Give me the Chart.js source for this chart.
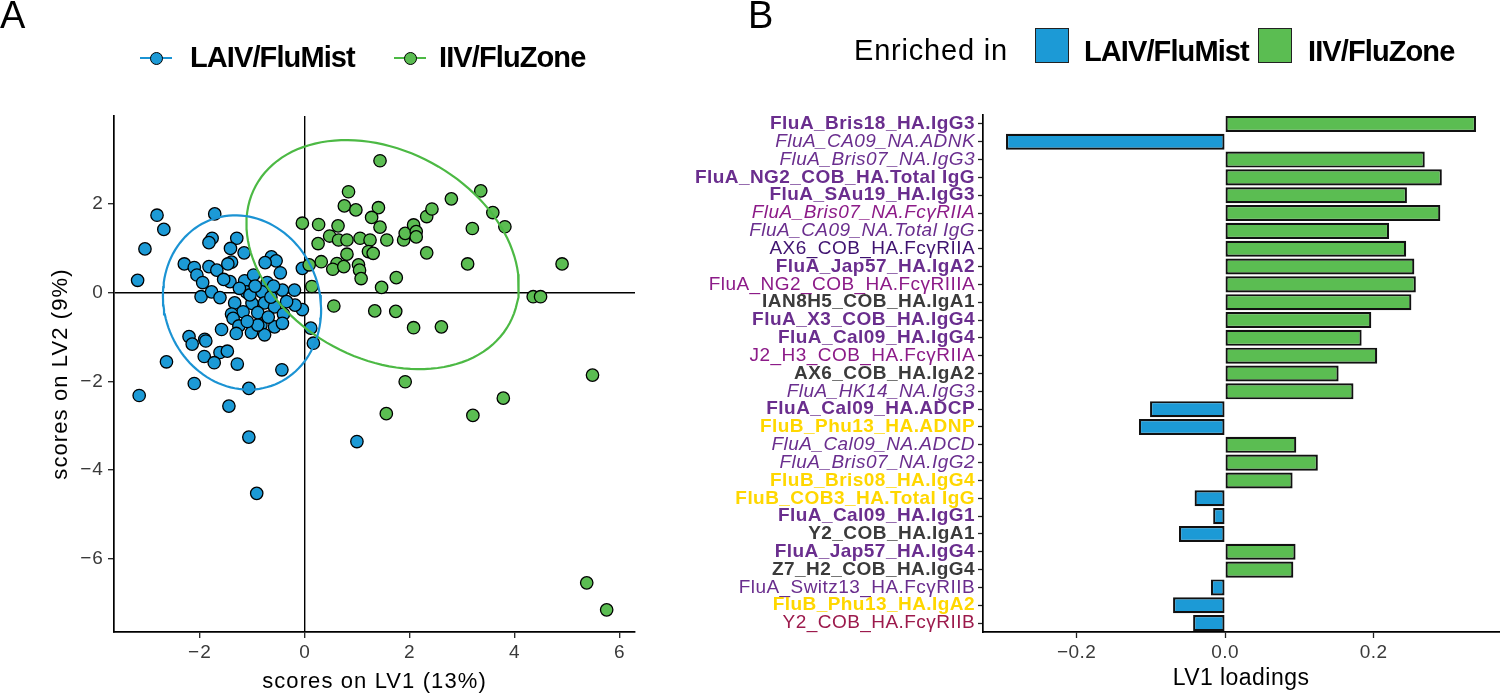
<!DOCTYPE html>
<html>
<head>
<meta charset="utf-8">
<title>LAIV/FluMist vs IIV/FluZone – LV scores and LV1 loadings</title>
<script src="https://cdn.jsdelivr.net/npm/chart.js@4.4.1/dist/chart.umd.min.js"></script>
<style>
  html, body { margin: 0; padding: 0; background: #fff; overflow: hidden; }
  #fig { position: relative; width: 1500px; height: 693px; font-family: "Liberation Sans", Arial, sans-serif; color: #000; }
  #fig canvas { position: absolute; top: 0; }
  .txt { position: absolute; line-height: 1; white-space: nowrap; z-index: 2; }
  .letter { font-size: 38px; }
  .lg-bold { font-size: 29px; font-weight: bold; letter-spacing: -0.9px; }
  .lg-plain { font-size: 29px; letter-spacing: 0.8px; }
  .mk { position: absolute; z-index: 2; box-sizing: border-box; }
</style>
</head>
<body>
<div id="fig">
  <canvas id="chart-scores" width="650" height="693" style="left:0"></canvas>
  <canvas id="chart-loadings" width="850" height="693" style="left:650px"></canvas>
</div>
<script>
// -------- data: panel A (scores) --------
var groups = ["LAIV/FluMist", "IIV/FluZone"];

var laivLV1 = [-2.82, -1.72, -2.69, -3.05, -3.19, -1.30, -1.77, -1.83, -1.42, -1.16,
  -0.64, -0.55, -0.76, -1.40, -1.47, -2.30, -2.11, -1.83, -1.68, -2.06,
  -0.47, -1.95, -1.43, -1.15, -0.98, -0.72, -0.20, -0.05, -1.98, -1.78,
  -1.62, -1.12, -0.82, -0.43, -1.34, -1.01, -0.77, -0.58, -1.18, -1.40,
  -0.41, -1.37, -1.59, -1.26, -0.84, -1.02, -0.58, -0.43, -0.05, 0.11,
  0.16, -2.21, -1.91, -2.15, -1.89, -1.31, -0.77, -0.90, -2.64, -1.92,
  -1.62, -1.48, -1.73, -1.29, -0.44, -2.11, -1.07, -3.16, -1.45, -1.07,
  -0.92, 0.99, -0.19, -1.05, -0.90, -0.65, -1.25, -0.35, -1.55, -0.95,
  -0.60, -1.10, -0.70];
var laivLV2 = [1.75, 1.78, 1.43, 0.99, 0.28, 1.23, 1.23, 1.13, 1.00, 0.90,
  0.81, 0.72, 0.68, 0.69, 0.65, 0.65, 0.57, 0.59, 0.51, 0.40,
  0.45, 0.23, 0.25, 0.27, 0.40, 0.23, 0.06, 0.55, -0.09, 0.02,
  -0.11, 0.02, 0.02, 0.06, -0.23, -0.24, -0.23, -0.32, -0.43, -0.48,
  -0.48, -0.58, -0.83, -0.75, -0.73, -0.90, -0.77, -0.69, -0.38, -0.80,
  -1.14, -0.99, -1.05, -1.16, -1.09, -0.92, -0.95, -0.73, -1.56, -1.44,
  -1.35, -1.32, -1.58, -1.61, -1.74, -2.05, -2.16, -2.32, -2.56, -3.26,
  -4.53, -3.36, -0.28, -0.05, -0.45, -0.10, 0.10, -0.20, 0.30, 0.15,
  0.15, -0.65, -0.55];

var iivLV1 = [1.43, 0.83, 0.75, 0.97, 1.40, 1.27, 1.43, -0.05, 0.26, 0.63,
  0.47, 0.64, 0.80, 1.05, 1.24, 1.56, 0.25, 0.80, 1.21, 1.30,
  0.31, 0.08, 0.61, 0.53, 0.74, 1.02, 1.04, 1.07, 1.74, 1.46,
  0.13, 1.88, 1.91, 2.07, 2.12, 2.12, 2.32, 2.42, 2.79, 3.35,
  3.58, 3.81, 3.19, 2.32, 3.10, 4.90, 4.35, 4.49, 0.55, 1.33,
  1.73, 2.07, 2.60, 1.91, 1.55, 3.20, 3.78, 5.48, 5.37, 5.75];
var iivLV2 = [2.98, 2.28, 1.96, 1.87, 1.92, 1.70, 1.48, 1.57, 1.54, 1.51,
  1.28, 1.19, 1.19, 1.23, 1.19, 1.19, 1.11, 0.87, 0.93, 0.89,
  0.70, 0.63, 0.66, 0.53, 0.59, 0.63, 0.51, 0.32, 0.34, 0.12,
  0.14, 1.19, 1.34, 1.53, 1.38, 1.26, 1.72, 1.89, 2.12, 2.30,
  1.81, 1.49, 1.45, 0.90, 0.65, 0.65, -0.09, -0.09, -0.30, -0.41,
  -0.42, -0.79, -0.77, -2.01, -2.73, -2.77, -2.38, -1.86, -6.55, -7.16];

// 95% ellipses: centre + two conjugate semi-axes (data units)
var laivEllipse = { center: [-1.20, -0.22], u: [0.63, -1.85], v: [-1.37, -0.67] };
var iivEllipse  = { center: [1.48, 0.86],  u: [2.42, -1.55], v: [-0.94, -2.07] };

var scoreTicksX = [-2, 0, 2, 4, 6];
var scoreTicksY = [-6, -4, -2, 0, 2];

// -------- data: panel B (loadings) --------
var features = [
  "FluA_Bris18_HA.IgG3", "FluA_CA09_NA.ADNK", "FluA_Bris07_NA.IgG3", "FluA_NG2_COB_HA.Total IgG",
  "FluA_SAu19_HA.IgG3", "FluA_Bris07_NA.FcγRIIA", "FluA_CA09_NA.Total IgG", "AX6_COB_HA.FcγRIIA",
  "FluA_Jap57_HA.IgA2", "FluA_NG2_COB_HA.FcγRIIIA", "IAN8H5_COB_HA.IgA1", "FluA_X3_COB_HA.IgG4",
  "FluA_Cal09_HA.IgG4", "J2_H3_COB_HA.FcγRIIA", "AX6_COB_HA.IgA2", "FluA_HK14_NA.IgG3",
  "FluA_Cal09_HA.ADCP", "FluB_Phu13_HA.ADNP", "FluA_Cal09_NA.ADCD", "FluA_Bris07_NA.IgG2",
  "FluB_Bris08_HA.IgG4", "FluB_COB3_HA.Total IgG", "FluA_Cal09_HA.IgG1", "Y2_COB_HA.IgA1",
  "FluA_Jap57_HA.IgG4", "Z7_H2_COB_HA.IgG4", "FluA_Switz13_HA.FcγRIIB", "FluB_Phu13_HA.IgA2",
  "Y2_COB_HA.FcγRIIB"
];
var loadings = [0.338, -0.295, 0.269, 0.292, 0.245, 0.290, 0.221, 0.244, 0.255, 0.257,
  0.251, 0.197, 0.184, 0.205, 0.153, 0.173, -0.101, -0.116, 0.096, 0.125,
  0.091, -0.041, -0.016, -0.062, 0.095, 0.092, -0.019, -0.070, -0.043];
var loadingTicks = [-0.2, 0, 0.2];

// -------- styles --------
var FONT = '"Liberation Sans", Arial, sans-serif';
var BLUE = "#1c9ad6", GREEN = "#5bbd52";
var BLUE_LINE = "#1b93d3", GREEN_LINE = "#4cb944";

// label colour / face per feature (same order as features)
var P = "#6a2e8e", M = "#8c1b88", IND = "#3f1270", D = "#3b3b3b", Y = "#ffd700", R = "#9c1a4c";
var labelColors = [P, P, P, P, P, M, P, IND, P, M, D, P, P, M, D, P, P, Y, P, P, Y, Y, P, D, P, D, P, Y, R];
var labelFaces = ["b", "i", "i", "b", "b", "i", "i", "n", "b", "n", "b", "b", "b", "n", "b", "i",
  "b", "b", "i", "i", "b", "b", "b", "b", "b", "b", "n", "b", "n"];

Chart.defaults.font.family = FONT;
Chart.defaults.color = "#333";

// canvas text spacing (matches the wide lettering of the original)
var spacingPlugin = {
  id: "spacing",
  beforeUpdate: function (chart, args, opts) { chart.ctx.letterSpacing = (opts.px || 0) + "px"; },
  beforeDraw: function (chart, args, opts) { chart.ctx.letterSpacing = (opts.px || 0) + "px"; }
};

function minusFmt(v, digits) {
  var s = digits ? Math.abs(v).toFixed(digits) : String(Math.abs(v));
  return v < 0 ? "\u2212" + s : s;
}

function ellipsePoints(e) {
  var pts = [];
  for (var k = 0; k <= 120; k++) {
    var t = (k / 120) * 2 * Math.PI;
    pts.push({
      x: e.center[0] + e.u[0] * Math.cos(t) + e.v[0] * Math.sin(t),
      y: e.center[1] + e.u[1] * Math.cos(t) + e.v[1] * Math.sin(t)
    });
  }
  return pts;
}

function pairs(xs, ys) {
  return xs.map(function (x, i) { return { x: x, y: ys[i] }; });
}

function zeroLine(c) { return c.tick && c.tick.value === 0 ? "#000" : "rgba(0,0,0,0)"; }

// -------- panel A: scores scatter --------
new Chart(document.getElementById("chart-scores").getContext("2d"), {
  type: "scatter",
  plugins: [spacingPlugin],
  data: {
    datasets: [
      { label: groups[0] + " ellipse", data: ellipsePoints(laivEllipse), showLine: true, pointRadius: 0,
        borderColor: BLUE_LINE, borderWidth: 2.2, fill: false, order: 0 },
      { label: groups[1] + " ellipse", data: ellipsePoints(iivEllipse), showLine: true, pointRadius: 0,
        borderColor: GREEN_LINE, borderWidth: 2.2, fill: false, order: 0 },
      { label: groups[1], data: pairs(iivLV1, iivLV2), backgroundColor: GREEN, borderColor: "#000",
        borderWidth: 1.3, pointRadius: 6.2, order: 1 },
      { label: groups[0], data: pairs(laivLV1, laivLV2), backgroundColor: BLUE, borderColor: "#000",
        borderWidth: 1.3, pointRadius: 6.2, order: 2 }
    ]
  },
  options: {
    responsive: false,
    animation: false,
    events: [],
    layout: { padding: { top: 116, right: 15, left: 0, bottom: 0 } },
    plugins: { legend: { display: false }, tooltip: { enabled: false }, spacing: { px: 1.1 } },
    scales: {
      x: {
        type: "linear", min: -3.64, max: 6.29,
        afterBuildTicks: function (s) { s.ticks = scoreTicksX.map(function (v) { return { value: v }; }); },
        afterFit: function (s) { s.height = 61; },
        ticks: { font: { size: 19 }, color: "#3a3a3a", padding: 3, maxRotation: 0,
          callback: function (v) { return minusFmt(v); } },
        grid: { color: zeroLine, lineWidth: 1.4, tickColor: "#222", tickLength: 6, tickWidth: 1.3 },
        border: { display: true, color: "#000", width: 1.7 },
        title: { display: true, text: "scores on LV1 (13%)", color: "#000", font: { size: 22, lineHeight: 1 },
          padding: { top: 0, bottom: 0 } }
      },
      y: {
        type: "linear", min: -7.66, max: 3.99,
        afterBuildTicks: function (s) { s.ticks = scoreTicksY.map(function (v) { return { value: v }; }); },
        afterFit: function (s) { s.width = 114; },
        ticks: { font: { size: 19 }, color: "#3a3a3a", padding: 4,
          callback: function (v) { return minusFmt(v); } },
        grid: { color: zeroLine, lineWidth: 1.4, tickColor: "#222", tickLength: 6, tickWidth: 1.3 },
        border: { display: true, color: "#000", width: 1.7 },
        title: { display: true, text: "scores on LV2 (9%)", color: "#000", font: { size: 22, lineHeight: 1 },
          padding: { top: 50, bottom: 0 } }
      }
    }
  }
});

// -------- panel B: LV1 loadings bars --------
new Chart(document.getElementById("chart-loadings").getContext("2d"), {
  type: "bar",
  plugins: [spacingPlugin],
  data: {
    labels: features,
    datasets: [{
      label: "LV1 loadings",
      data: loadings,
      backgroundColor: loadings.map(function (v) { return v < 0 ? BLUE : GREEN; }),
      borderColor: "#111",
      borderWidth: 2.2,
      borderSkipped: false,
      barPercentage: 0.9,
      categoryPercentage: 1.0
    }]
  },
  options: {
    indexAxis: "y",
    responsive: false,
    animation: false,
    events: [],
    layout: { padding: { top: 115, right: 1, left: 0, bottom: 0 } },
    plugins: { legend: { display: false }, tooltip: { enabled: false }, spacing: { px: 0.45 } },
    scales: {
      x: {
        type: "linear", min: -0.326, max: 0.369,
        afterBuildTicks: function (s) { s.ticks = loadingTicks.map(function (v) { return { value: v }; }); },
        afterFit: function (s) { s.height = 61; },
        ticks: { font: { size: 19 }, color: "#3a3a3a", padding: 3, maxRotation: 0,
          callback: function (v) { return minusFmt(v, 1); } },
        grid: { drawOnChartArea: false, tickColor: "#222", tickLength: 6, tickWidth: 1.3 },
        border: { display: true, color: "#000", width: 1.7 },
        title: { display: true, text: "LV1 loadings", color: "#000", font: { size: 23, lineHeight: 1 },
          padding: { top: 0, bottom: 3 } }
      },
      y: {
        type: "category",
        offset: true,
        afterFit: function (s) { s.width = 333; },
        ticks: {
          autoSkip: false,
          padding: 3,
          color: function (c) { return labelColors[c.index]; },
          font: function (c) {
            var f = labelFaces[c.index];
            return { family: FONT, size: 19, weight: f === "b" ? "bold" : "normal",
              style: f === "i" ? "italic" : "normal" };
          }
        },
        grid: { offset: false, drawOnChartArea: false, tickColor: "#222", tickLength: 5, tickWidth: 1.3 },
        border: { display: true, color: "#000", width: 1.7 }
      }
    }
  }
});

// -------- panel letters + legends (HTML text) --------
var fig = document.getElementById("fig");
function addText(txt, left, top, cls) {
  var d = document.createElement("div");
  d.className = "txt " + cls;
  d.style.left = left + "px";
  d.style.top = top + "px";
  d.textContent = txt;
  fig.appendChild(d);
}
function addBox(left, top, w, h, css) {
  var d = document.createElement("div");
  d.className = "mk";
  d.style.left = left + "px"; d.style.top = top + "px";
  d.style.width = w + "px"; d.style.height = h + "px";
  for (var k in css) d.style[k] = css[k];
  fig.appendChild(d);
}

addText("A", 0, -4, "letter");
addText("B", 748, -4, "letter");

// panel A legend: line + point keys
var keyA = [{ x: 140, text: 190 }, { x: 394, text: 439 }];
[BLUE_LINE, GREEN_LINE].forEach(function (lc, i) {
  var fill = i === 0 ? BLUE : GREEN;
  addBox(keyA[i].x, 57, 32, 2.2, { background: lc });
  addBox(keyA[i].x + 9.5, 51.5, 13, 13, { background: fill, border: "1.3px solid #000", borderRadius: "50%" });
  addText(groups[i], keyA[i].text, 43, "lg-bold");
});

// panel B legend: filled keys
addText("Enriched in", 854, 36, "lg-plain");
var keyB = [{ x: 1035, text: 1084 }, { x: 1258, text: 1308 }];
[BLUE, GREEN].forEach(function (c, i) {
  addBox(keyB[i].x, 28, 34, 35, { background: c, border: "1.6px solid #222" });
  addText(groups[i], keyB[i].text, 37, "lg-bold");
});
</script>
</body>
</html>
